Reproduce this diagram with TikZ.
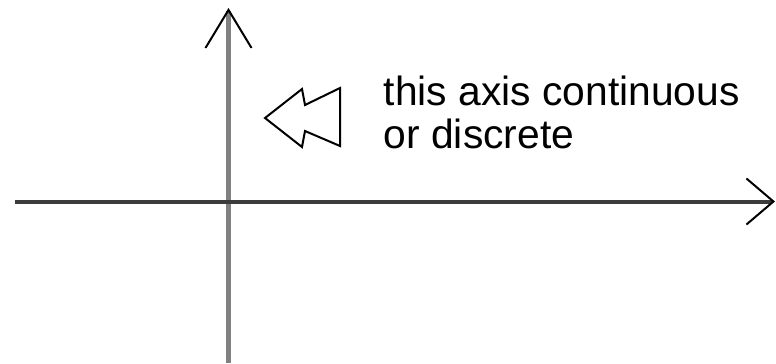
\documentclass[tikz,border=0pt]{standalone}
\usepackage{fontspec}
\setmainfont{Liberation Sans}
\usetikzlibrary{arrows.meta}
\definecolor{AxisGray}{HTML}{808080}
\definecolor{AxisDark}{HTML}{3C3C3C}

\begin{document}
\begin{tikzpicture}[x=0.01cm,y=0.01cm,
    vaxis/.style={draw=AxisGray,line width=0.058cm},
    haxis/.style={draw=AxisDark,line width=0.04cm},
    barb/.style={-{Straight Barb[length=#1,width=0.46cm,line width=0.02cm,color=black]}},
    hint/.style={draw=black,line width=0.02cm,line join=miter}]
  \useasboundingbox (0,0) rectangle (776,363);
  % axes
  \coordinate (ybot) at (228.5,0);
  \coordinate (ytop) at (228.5,355);
  \coordinate (xleft) at (15,161.5);
  \coordinate (xright) at (775,161.5);
  \draw[vaxis,barb=0.38cm] (ybot) -- (ytop);
  \draw[haxis,barb=0.27cm] (xleft) -- (xright);
  % hollow double arrow pointing at the axis
  \draw[hint] (265,245) -- (302,274) -- (305,258) -- (340,275)
    -- (340,217) -- (305,232) -- (302,216) -- cycle;
  \node[anchor=base west,align=left,inner sep=0pt,
    font=\fontsize{11.6pt}{12.2pt}\selectfont] (note) at (383,215)
    {this axis continuous\\or discrete};
\end{tikzpicture}
\end{document}
